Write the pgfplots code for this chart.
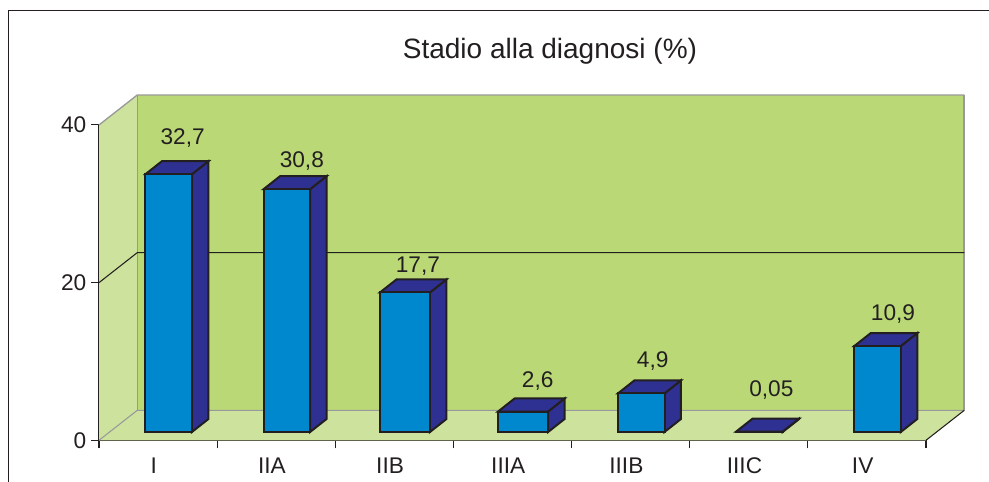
\documentclass[border=0pt]{standalone}
\usepackage{pgfplots}
\pgfplotsset{compat=1.18}
\usepackage{pgfplotstable}
\usepackage{fontspec}
\setmainfont{Liberation Sans}
\definecolor{txt}{HTML}{231F20}
\definecolor{front}{HTML}{0088CF}
\definecolor{dark}{HTML}{2E3192}
\definecolor{wall}{HTML}{BAD976}
\definecolor{floorc}{HTML}{CDE29D}
\definecolor{edge}{HTML}{999999}
\pgfplotstableread{
i v
0 32.7
1 30.8
4 4.9
5 0.05
6 10.9
}\stadio
\pgfplotstableread{
i v
2 17.7
3 2.6
}\stadiowide
\pgfplotstableread{
i v label dx dy
0 32.7 32,7 14 29.7
1 30.8 30,8 15 21.6
2 17.7 17,7 13 20
3 2.6 2,6 14.6 24
4 4.9 4,9 11.5 26
5 0.05 0,05 12 35
6 10.9 10,9 15.5 26
}\stadiolabels
% #1 position, #2 value, #3 half width of the front face
\newcommand\cube[3]{%
  \pgfmathsetmacro\xl{#1-#3}%
  \pgfmathsetmacro\xr{#1+#3}%
  \pgfmathsetmacro\xlb{#1-#3+0.1397}%
  \pgfmathsetmacro\xrb{#1+#3+0.1397}%
  \pgfmathsetmacro\yb{#2+1.65}%
  \edef\tmp{\noexpand\addplot[fill=dark,draw=txt,line width=1.5pt] coordinates {(\xr,0) (\xrb,1.65) (\xrb,\yb) (\xr,#2)} --cycle;
  \noexpand\addplot[fill=dark,draw=txt,line width=1.5pt] coordinates {(\xl,#2) (\xr,#2) (\xrb,\yb) (\xlb,\yb)} --cycle;}%
  \tmp}
\begin{document}
\begin{tikzpicture}
\path[use as bounding box] (-74.25pt,-31.275pt) rectangle (667.5pt,330.225pt);
\draw[color=txt,line width=1pt] (-67.875pt,-31.275pt) -- (-67.875pt,322.35pt) -- (667.5pt,322.35pt);
\begin{axis}[
  at={(0,0)},anchor=south west,
  scale only axis,width=620.25pt,height=236.5pt,
  xmin=0,xmax=7,ymin=0,ymax=40,clip=false,
  axis x line=bottom,axis y line=left,
  axis line style={-,color=txt,line width=.8pt},
  xtick={0,...,7},x tick label as interval,
  xticklabels={I,IIA,IIB,IIIA,IIIB,IIIC,IV},
  ytick={0,20,40},
  tick align=outside,major tick length=6pt,
  tick style={color=txt,line width=.8pt},
  /pgf/number format/assume math mode=true,
  ticklabel style={font=\fontsize{17}{19}\selectfont,text=txt},
  xticklabel style={xshift=-3.2pt,yshift=-3.5pt},
  title={Stadio alla diagnosi (\%)},
  title style={at={(axis description cs:.5453,1.184)},anchor=base,inner sep=0pt,text=txt,font=\fontsize{21}{24}\selectfont},
]
\addplot[fill=floorc,draw=none] coordinates {(0,0) (.3242,3.807) (7.3242,3.807) (7,0)} --cycle;
\addplot[fill=floorc,draw=none] coordinates {(0,0) (.3242,3.807) (.3242,43.807) (0,40)} --cycle;
\addplot[fill=wall,draw=none] coordinates {(.3242,3.807) (7.3242,3.807) (7.3242,43.807) (.3242,43.807)} --cycle;
\addplot[draw=edge,line width=1pt] coordinates {(0,40) (.3242,43.807) (7.3242,43.807)};
\addplot[draw=edge,line width=1.5pt] coordinates {(7.3242,43.807) (7.3242,3.807)};
\addplot[draw=edge,line width=.8pt] coordinates {(0,0) (.3242,3.807) (7.3242,3.807)};
\addplot[draw=edge,line width=.8pt] coordinates {(.3242,3.807) (.3242,43.807)};
\addplot[draw=txt,line width=.8pt] coordinates {(0,20) (.3242,23.807) (7.3242,23.807)};
\addplot[draw=txt,line width=.8pt] coordinates {(7,0) (7.3242,3.807)};
\end{axis}
\begin{axis}[
  at={(0,0)},anchor=south west,
  scale only axis,width=620.25pt,height=236.5pt,
  xmin=-.5897,xmax=6.4103,ymin=-1.053,ymax=38.947,clip=false,
  hide axis,
]
\cube{0}{32.7}{.1968}
\cube{1}{30.8}{.1968}
\cube{2}{17.7}{.2116}
\cube{3}{2.6}{.2116}
\cube{4}{4.9}{.1968}
\cube{5}{0.05}{.1968}
\cube{6}{10.9}{.1968}
\addplot[ybar,bar shift=0pt,bar width=34.9pt,fill=front,draw=txt,line width=1.5pt] table[x=i,y=v] {\stadio};
\addplot[ybar,bar shift=0pt,bar width=37.5pt,fill=front,draw=txt,line width=1.5pt] table[x=i,y=v] {\stadiowide};
\addplot[only marks,mark=none,
  visualization depends on={\thisrow{dx} \as \dxv},
  visualization depends on={\thisrow{dy} \as \dyv},
  point meta=explicit symbolic,
  nodes near coords,
  nodes near coords style={anchor=base,inner sep=0pt,text=txt,font=\fontsize{17}{19}\selectfont,
    xshift={\dxv*.75pt},yshift={\dyv*.75pt}},
] table[x=i,y=v,meta=label] {\stadiolabels};
\end{axis}
\end{tikzpicture}
\end{document}
